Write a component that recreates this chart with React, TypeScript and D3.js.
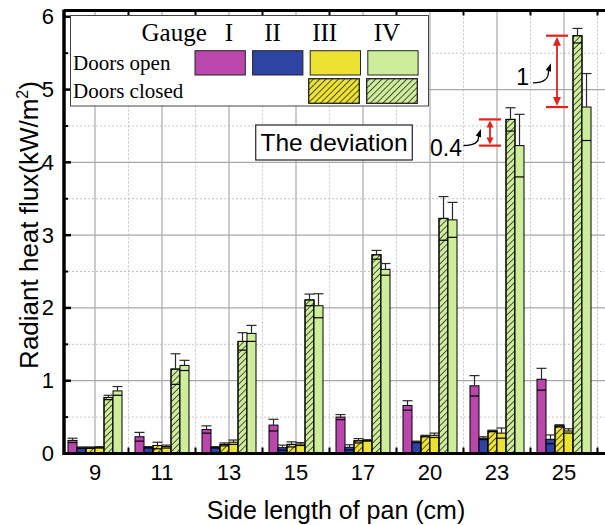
import React from "react";
import * as d3 from "d3";

// Side length of pan (cm)
const categories = ["9", "11", "13", "15", "17", "20", "23", "25"];

// Radiant heat flux (kW/m²) and error half-widths per gauge and door state
const gaugeIOpen = [0.18, 0.23, 0.33, 0.39, 0.5, 0.66, 0.93, 1.02];
const gaugeIOpenErr = [0.03, 0.06, 0.05, 0.08, 0.035, 0.065, 0.14, 0.15];
const gaugeIIOpen = [0.08, 0.085, 0.085, 0.08, 0.085, 0.16, 0.21, 0.195];
const gaugeIIOpenErr = [0.01, 0.01, 0.01, 0.035, 0.035, 0.01, 0.02, 0.06];
const gaugeIIIClosed = [0.08, 0.11, 0.125, 0.125, 0.175, 0.24, 0.31, 0.38];
const gaugeIIIClosedErr = [0.01, 0.045, 0.02, 0.035, 0.03, 0.01, 0.01, 0.015];
const gaugeIIIOpen = [0.085, 0.095, 0.155, 0.13, 0.18, 0.25, 0.28, 0.31];
const gaugeIIIOpenErr = [0.01, 0.02, 0.03, 0.02, 0.01, 0.03, 0.07, 0.03];
const gaugeIVClosed = [0.77, 1.16, 1.54, 2.11, 2.73, 3.23, 4.59, 5.74];
const gaugeIVClosedErr = [0.03, 0.21, 0.12, 0.08, 0.06, 0.3, 0.16, 0.1];
const gaugeIVOpen = [0.86, 1.21, 1.65, 2.03, 2.53, 3.21, 4.23, 4.76];
const gaugeIVOpenErr = [0.06, 0.07, 0.11, 0.165, 0.08, 0.24, 0.43, 0.46];

const yTicks = [0, 1, 2, 3, 4, 5, 6];
const gaugeLabels = ["I", "II", "III", "IV"];
const rowLabels = ["Doors open", "Doors closed"];

// Deviation callouts between closed and open doors for gauge IV
const deviationCategories = ["23", "25"];
const deviationLabels = ["0.4", "1"];

const COLORS = {
  I: "#BA48AC",
  II: "#2E44A2",
  III: "#ECE232",
  IV: "#CDED9B",
};

const series = [
  { key: "Iopen", values: gaugeIOpen, errs: gaugeIOpenErr, fill: COLORS.I, hatched: false },
  { key: "IIopen", values: gaugeIIOpen, errs: gaugeIIOpenErr, fill: COLORS.II, hatched: false },
  { key: "IIIclosed", values: gaugeIIIClosed, errs: gaugeIIIClosedErr, fill: COLORS.III, hatched: true },
  { key: "IIIopen", values: gaugeIIIOpen, errs: gaugeIIIOpenErr, fill: COLORS.III, hatched: false },
  { key: "IVclosed", values: gaugeIVClosed, errs: gaugeIVClosedErr, fill: COLORS.IV, hatched: true },
  { key: "IVopen", values: gaugeIVOpen, errs: gaugeIVOpenErr, fill: COLORS.IV, hatched: false },
];

const W = 605;
const H = 525;
const AXIS_X = 64;
const AXIS_BOTTOM = 453.5;
const AXIS_TOP = 9.5;
const RED = "#E3211C";
const SANS = "'Liberation Sans', Arial, sans-serif";
const SERIF = "'Liberation Serif', 'Times New Roman', serif";

const y = d3.scaleLinear().domain([0, 6.1]).range([AXIS_BOTTOM, AXIS_TOP]);
const x = d3
  .scaleBand<string>()
  .domain(categories)
  .range([61.5, 597.5])
  .paddingInner(0.194)
  .paddingOuter(0.097);
const xInner = d3
  .scaleBand<string>()
  .domain(series.map((s) => s.key))
  .range([0, x.bandwidth()]);

const step = x.step();
const centers = categories.map((c) => (x(c) as number) + x.bandwidth() / 2);
const midpoints = centers.map((c) => c + step / 2);

const majorY = d3.range(1, 6);
const minorY = d3.range(0.5, 6, 1);

// placement of the callout labels and curved pointers, relative to the red bracket
const calloutLayout = [
  { textDx: -28, textDy: 23.5, tailDx: -26.5, tailDy: 13, tipDx: -9, tipDy: -3.5, head: 8, half: 3.5 },
  { textDx: -28, textDy: 13.5, tailDx: -24, tailDy: 11.5, tipDx: -6, tipDy: -8, head: 10, half: 4 },
];

function curvedArrow(tx: number, ty: number, hx: number, hy: number, key: string) {
  const bx = hx - 2.5;
  const by = hy + 7;
  const dx = hx - bx;
  const dy = hy - by;
  const len = Math.hypot(dx, dy);
  const ux = dx / len;
  const uy = dy / len;
  const px = -uy;
  const py = ux;
  const hb = 2.8;
  const pts = [
    [hx, hy],
    [bx + px * hb - ux * 0.5, by + py * hb - uy * 0.5],
    [bx - px * hb - ux * 0.5, by - py * hb - uy * 0.5],
  ];
  return (
    <g key={key}>
      <path
        d={`M${tx},${ty} Q${bx + 1},${ty} ${bx},${by}`}
        fill="none"
        stroke="#000"
        strokeWidth={1.3}
      />
      <polygon points={pts.map((p) => p.join(",")).join(" ")} fill="#000" />
    </g>
  );
}

export default function App() {
  const bw = xInner.bandwidth();

  return (
    <svg
      width={W}
      height={H}
      viewBox={`0 0 ${W} ${H}`}
      style={{ position: "absolute", left: 0, top: 0, background: "#fff" }}
    >
      <defs>
        <pattern
          id="hatch"
          patternUnits="userSpaceOnUse"
          width={4.4}
          height={4.4}
          patternTransform="rotate(45)"
        >
          <line x1={0} y1={-1} x2={0} y2={6} stroke="#111" strokeWidth={1.4} />
        </pattern>
      </defs>

      {/* grid */}
      <g>
        {minorY.map((v) => (
          <line key={`my${v}`} x1={AXIS_X} x2={W} y1={y(v)} y2={y(v)} stroke="#c4c4c4" strokeDasharray="2,2" />
        ))}
        {midpoints.map((m, i) => (
          <line key={`mx${i}`} x1={m} x2={m} y1={AXIS_TOP} y2={AXIS_BOTTOM} stroke="#c4c4c4" strokeDasharray="2,2" />
        ))}
        {majorY.map((v) => (
          <line key={`gy${v}`} x1={AXIS_X} x2={W} y1={y(v)} y2={y(v)} stroke="#a8a8a8" strokeWidth={1.2} />
        ))}
        {centers.map((c, i) => (
          <line key={`gx${i}`} x1={c} x2={c} y1={AXIS_TOP} y2={AXIS_BOTTOM} stroke="#a8a8a8" strokeWidth={1.2} />
        ))}
      </g>

      {/* bars */}
      <g>
        {series.map((s) =>
          categories.map((c, i) => {
            const bx = (x(c) as number) + (xInner(s.key) as number);
            const top = y(s.values[i]);
            return (
              <g key={`${s.key}${c}`}>
                <rect x={bx} y={top} width={bw} height={AXIS_BOTTOM - top} fill={s.fill} stroke="#000" strokeWidth={1} />
                {s.hatched && (
                  <rect x={bx} y={top} width={bw} height={AXIS_BOTTOM - top} fill="url(#hatch)" stroke="#000" strokeWidth={1} />
                )}
              </g>
            );
          })
        )}
      </g>

      {/* error bars */}
      <g stroke="#2a2a2a" strokeWidth={1.2}>
        {series.map((s) =>
          categories.map((c, i) => {
            const bx = (x(c) as number) + (xInner(s.key) as number);
            const cx = bx + bw / 2;
            const v = s.values[i];
            const e = s.errs[i];
            return (
              <g key={`e${s.key}${c}`}>
                <line x1={cx} x2={cx} y1={y(v)} y2={y(v + e)} />
                <line x1={bx - 0.5} x2={bx + bw + 0.5} y1={y(v + e)} y2={y(v + e)} />
                <line x1={bx} x2={bx + bw} y1={y(v - e)} y2={y(v - e)} stroke="#000" />
              </g>
            );
          })
        )}
      </g>

      {/* axes frame */}
      <line x1={AXIS_X} x2={W} y1={AXIS_BOTTOM} y2={AXIS_BOTTOM} stroke="#000" strokeWidth={3} />
      <line x1={AXIS_X} x2={W} y1={AXIS_TOP + 1} y2={AXIS_TOP + 1} stroke="#000" strokeWidth={3} />
      <line x1={AXIS_X} x2={AXIS_X} y1={AXIS_TOP} y2={AXIS_BOTTOM + 1.5} stroke="#000" strokeWidth={3.5} />
      {yTicks.map((v) => (
        <line key={`yt${v}`} x1={AXIS_X} x2={AXIS_X + 7} y1={y(v)} y2={y(v)} stroke="#000" strokeWidth={2.5} />
      ))}
      {minorY.map((v) => (
        <line key={`ymt${v}`} x1={AXIS_X} x2={AXIS_X + 4} y1={y(v)} y2={y(v)} stroke="#000" strokeWidth={2} />
      ))}
      {midpoints.map((m, i) => (
        <g key={`xt${i}`}>
          <line x1={m} x2={m} y1={AXIS_BOTTOM} y2={AXIS_BOTTOM - 6} stroke="#000" strokeWidth={2} />
          <line x1={m} x2={m} y1={AXIS_TOP + 1} y2={AXIS_TOP + 6} stroke="#000" strokeWidth={2} />
        </g>
      ))}

      {/* tick labels */}
      <g fontFamily={SANS} fontSize={22} fill="#000">
        {yTicks.map((v) => (
          <text key={`yl${v}`} x={54} y={y(v)} textAnchor="end" dominantBaseline="central">
            {v}
          </text>
        ))}
        {categories.map((c, i) => (
          <text key={`xl${c}`} x={centers[i]} y={480} textAnchor="middle">
            {c}
          </text>
        ))}
      </g>

      {/* axis titles */}
      <text x={336} y={519} textAnchor="middle" fontFamily={SANS} fontSize={25}>
        Side length of pan (cm)
      </text>
      <text
        transform={`translate(38,${225}) rotate(-90)`}
        textAnchor="middle"
        fontFamily={SANS}
        fontSize={26}
      >
        Radiant heat flux(kW/m
        <tspan fontSize={16} dy={-10}>2</tspan>
        <tspan dy={10}>)</tspan>
      </text>

      {/* legend */}
      <g fontFamily={SERIF} fill="#000">
        <rect x={70.5} y={15.5} width={358} height={90.5} fill="#fff" stroke="#444" strokeWidth={1} />
        <text x={141.5} y={40.5} fontSize={25}>Gauge</text>
        {gaugeLabels.map((g, i) => (
          <text key={g} x={[229, 272.5, 324.7, 387][i]} y={40.5} fontSize={25} textAnchor="middle">
            {g}
          </text>
        ))}
        <text x={73} y={70} fontSize={21}>{rowLabels[0]}</text>
        <text x={73} y={98} fontSize={21}>{rowLabels[1]}</text>
        {[COLORS.I, COLORS.II, COLORS.III, COLORS.IV].map((col, i) => (
          <rect key={`lo${i}`} x={195 + i * 57.6} y={50.7} width={50.3} height={24.3} fill={col} stroke="#222" strokeWidth={1} />
        ))}
        {[COLORS.III, COLORS.IV].map((col, i) => (
          <g key={`lc${i}`}>
            <rect x={308.7 + i * 58} y={78.7} width={50.6} height={24.6} fill={col} stroke="#222" />
            <rect x={308.7 + i * 58} y={78.7} width={50.6} height={24.6} fill="url(#hatch)" stroke="#222" />
          </g>
        ))}
      </g>

      {/* note box */}
      <rect x={255.7} y={125} width={156.6} height={35} fill="#fff" stroke="#333" strokeWidth={1.3} />
      <text x={260.5} y={150.5} fontFamily={SANS} fontSize={24.5}>
        The deviation
      </text>

      {/* deviation brackets */}
      {deviationCategories.map((c, k) => {
        const i = categories.indexOf(c);
        const rx = (x(c) as number) + 20;
        const yTop = y(gaugeIVClosed[i]);
        const yBot = y(gaugeIVOpen[i]);
        const mid = (yTop + yBot) / 2;
        const L = calloutLayout[k];
        return (
          <g key={`dev${c}`}>
            <line x1={rx - 11} x2={rx + 11} y1={yTop} y2={yTop} stroke={RED} strokeWidth={2.2} />
            <line x1={rx - 11} x2={rx + 11} y1={yBot} y2={yBot} stroke={RED} strokeWidth={2.2} />
            <line x1={rx} x2={rx} y1={yTop + 4} y2={yBot - 4} stroke={RED} strokeWidth={1.8} />
            <polygon
              points={`${rx},${yTop + 1} ${rx - L.half},${yTop + L.head} ${rx + L.half},${yTop + L.head}`}
              fill={RED}
            />
            <polygon
              points={`${rx},${yBot - 1} ${rx - L.half},${yBot - L.head} ${rx + L.half},${yBot - L.head}`}
              fill={RED}
            />
            <text x={rx + L.textDx} y={mid + L.textDy} textAnchor="end" fontFamily={SANS} fontSize={23}>
              {deviationLabels[k]}
            </text>
            {curvedArrow(rx + L.tailDx, mid + L.tailDy, rx + L.tipDx, mid + L.tipDy, `arr${c}`)}
          </g>
        );
      })}
    </svg>
  );
}
